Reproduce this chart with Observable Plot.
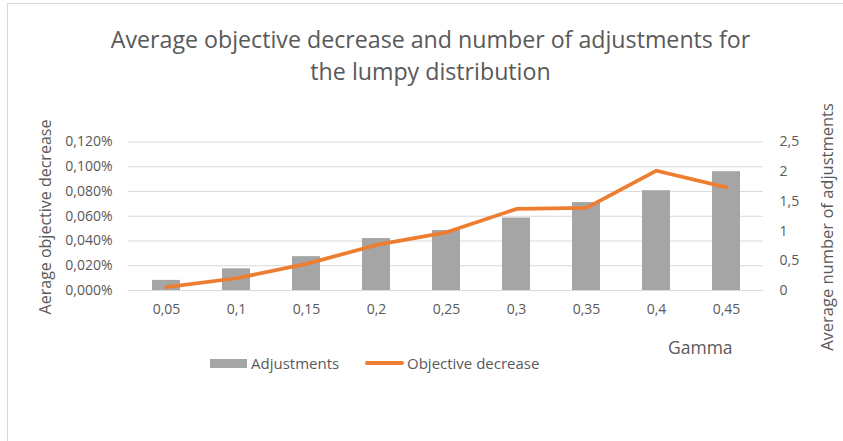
<!DOCTYPE html>
<html>
<head>
<meta charset="utf-8">
<script src="https://cdn.jsdelivr.net/npm/d3@7"></script>
<script src="https://cdn.jsdelivr.net/npm/@observablehq/plot@0.6"></script>
<style>
html, body { margin: 0; padding: 0; background: #fff; overflow: hidden; width: 843px; height: 441px; }
#wrap { position: relative; width: 843px; height: 441px; font-family: "Open Sans", sans-serif; color: #595959; }
#frame { position: absolute; left: 7px; top: 3px; width: 1000px; height: 1000px; border: 1px solid #d9d9d9; box-sizing: border-box; }
#chart { position: absolute; left: 0; top: 0; }
.t { position: absolute; white-space: nowrap; }
.title { left: 0; width: 861px; text-align: center; font-size: 23.2px; line-height: 24px; }
#title1 { top: 27px; }
#title2 { top: 59px; }
.ytitle { transform: translate(-50%, -50%) rotate(-90deg); }
#ylabL { left: 45px; top: 217px; font-size: 16px; }
#ylabR { left: 826px; top: 227px; font-size: 16.5px; }
#gamma { left: 668px; top: 347px; font-size: 17.5px; transform: translateY(-50%); }
.leg { font-size: 15px; top: 363px; transform: translateY(-50%); }
#swA { position: absolute; left: 210px; top: 359px; width: 37px; height: 9px; background: #A5A5A5; }
#swB { position: absolute; left: 365px; top: 361px; width: 39px; height: 4px; background: #ED7D31; border-radius: 2px; }
</style>
</head>
<body>
<div id="wrap">
  <div id="frame"></div>
  <div id="chart"></div>
  <div class="t title" id="title1">Average objective decrease and number of adjustments for</div>
  <div class="t title" id="title2">the lumpy distribution</div>
  <div class="t ytitle" id="ylabL">Aerage objective decrease</div>
  <div class="t ytitle" id="ylabR">Average number of adjustments</div>
  <div class="t" id="gamma">Gamma</div>
  <div id="swA"></div>
  <div class="t leg" style="left:251px">Adjustments</div>
  <div id="swB"></div>
  <div class="t leg" style="left:407px">Objective decrease</div>
</div>
<script>
// Data
const gammas = ["0,05", "0,1", "0,15", "0,2", "0,25", "0,3", "0,35", "0,4", "0,45"];
const adjustments = [0.17, 0.365, 0.57, 0.875, 1.01, 1.22, 1.48, 1.68, 2.0];
const objectiveDecrease = [0.0027, 0.0099, 0.0215, 0.0368, 0.047, 0.0659, 0.0667, 0.0968, 0.0833]; // percent
const leftTicks = [0, 0.02, 0.04, 0.06, 0.08, 0.10, 0.12];
const leftLabels = ["0,000%", "0,020%", "0,040%", "0,060%", "0,080%", "0,100%", "0,120%"];
const rightTicks = [0, 0.5, 1, 1.5, 2, 2.5];
const rightLabels = ["0", "0,5", "1", "1,5", "2", "2,5"];

const leftMax = 0.12, rightMax = 2.5;
const k = leftMax / rightMax;
const rows = gammas.map((g, i) => ({ g, adj: adjustments[i], obj: objectiveDecrease[i] }));
const rightScaled = rightTicks.map(t => t * k);
const findLabel = (ticks, labels) => d => labels[ticks.findIndex(v => Math.abs(v - d) < 1e-9)];

const chart = Plot.plot({
  width: 843,
  height: 441,
  marginTop: 141.5,
  marginBottom: 151,
  marginLeft: 128,
  marginRight: 80,
  style: { fontFamily: "Open Sans, sans-serif", fontSize: "14px", color: "#595959", background: "transparent" },
  x: { domain: gammas, paddingInner: 0.607, paddingOuter: 0.3035, axis: null, label: null },
  y: { domain: [0, leftMax], axis: null, label: null },
  marks: [
    Plot.gridY(leftTicks, { stroke: "#d9d9d9", strokeOpacity: 1, strokeWidth: 1 }),
    Plot.barY(rows, { x: "g", y: d => d.adj * k, fill: "#A5A5A5" }),
    Plot.line(rows, { x: "g", y: "obj", stroke: "#ED7D31", strokeWidth: 3.75, strokeLinejoin: "round", strokeLinecap: "round" }),
    Plot.axisY(leftTicks, { anchor: "left", label: null, tickSize: 0, tickPadding: 16, tickFormat: findLabel(leftTicks, leftLabels), fill: "#595959" }),
    Plot.axisY(rightScaled, { anchor: "right", label: null, tickSize: 0, tickPadding: 16, tickFormat: findLabel(rightScaled, rightLabels), fill: "#595959" }),
    Plot.axisX({ anchor: "bottom", label: null, tickSize: 0, tickPadding: 14, fill: "#595959" })
  ]
});
document.getElementById("chart").appendChild(chart);
</script>
</body>
</html>
